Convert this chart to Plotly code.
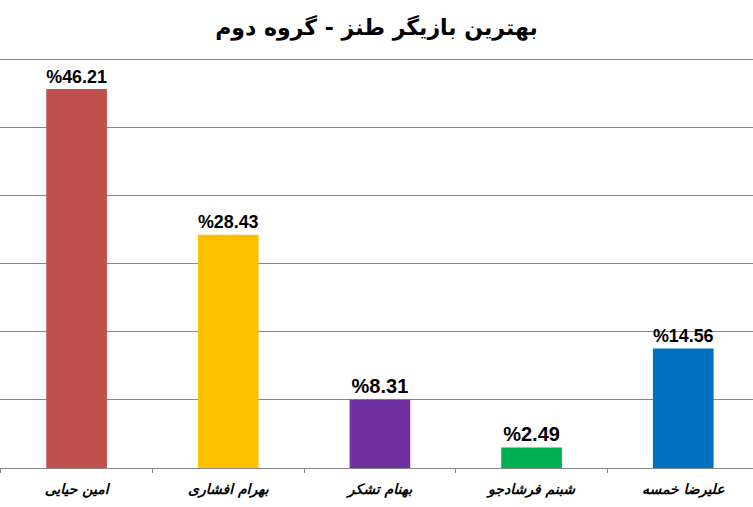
import plotly.graph_objects as go

categories = ["امین حیایی", "بهرام افشاری", "بهنام تشکر", "شبنم فرشادجو", "علیرضا خمسه"]
values = [46.21, 28.43, 8.31, 2.49, 14.56]
colors = ["#C0504D", "#FFC000", "#7030A0", "#00B050", "#0070C0"]
labels = ["%" + f"{v:.2f}" for v in values]
title_text = "بهترین بازیگر طنز - گروه دوم"

fig = go.Figure(go.Bar(
    x=categories, y=values, marker=dict(color=colors, line=dict(width=0)),
    text=labels, textposition="outside", cliponaxis=False,
    textfont=dict(family="Liberation Sans", size=20, color="#000000"),
    texttemplate="<b>%{text}</b>",
))

fig.update_layout(
    width=753, height=507,
    margin=dict(l=0, r=0, t=58, b=39),
    paper_bgcolor="white", plot_bgcolor="white",
    bargap=0.6,
    showlegend=False,
    title=dict(text="<b>" + title_text + "</b>", x=0.5, xanchor="center", y=0.947, yanchor="middle",
               font=dict(family="DejaVu Sans, Liberation Sans", size=22, color="#000000")),
    font=dict(family="DejaVu Sans"),
)
fig.update_xaxes(
    range=[-0.505, 4.46], showgrid=False, showline=True, linecolor="#888888", linewidth=1,
    ticks="outside", tickson="boundaries", ticklen=4, tickcolor="#888888",
    ticklabelstandoff=8,
    tickfont=dict(family="DejaVu Sans", size=14, color="#000000", style="italic", weight="bold"),
)
fig.update_yaxes(
    range=[0, 50], dtick=8.3, showgrid=True, gridcolor="#888888", gridwidth=1,
    showticklabels=False, zeroline=False, ticks="",
)
fig.write_html("out.html", config={"displayModeBar": False},
               post_script="document.body.style.margin='0';")
